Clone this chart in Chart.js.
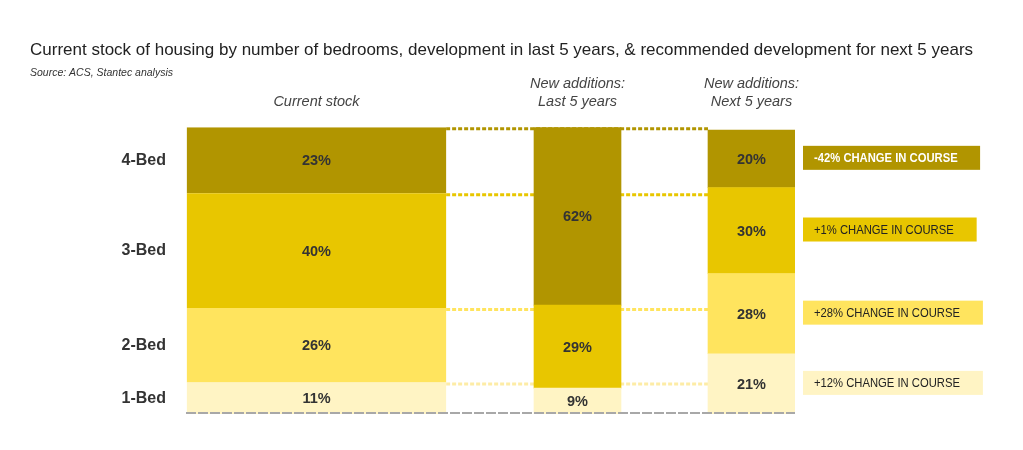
<!DOCTYPE html>
<html>
<head>
<meta charset="utf-8">
<script src="https://cdn.jsdelivr.net/npm/chart.js@4.4.1/dist/chart.umd.min.js"></script>
<style>
    html, body { margin: 0; padding: 0; background: #fff; }
    #wrap { width: 1023px; height: 450px; position: relative; }
</style>
</head>
<body>
<div id="wrap"><canvas id="housingChart"></canvas></div>
<script>
// Chart data
const bedrooms = ['4-Bed', '3-Bed', '2-Bed', '1-Bed'];
const columnLabels = ['Current stock', ['New additions:', 'Last 5 years'], ['New additions:', 'Next 5 years']];
const currentStock = [23, 40, 26, 11];
const lastFiveYears = [62, 29, null, 9];
const nextFiveYears = [20, 30, 28, 21];
const changeInCourse = ['-42%', '+1%', '+28%', '+12%'];

const bedColors = ['#b19500', '#e8c600', '#ffe45e', '#fff4c4'];
const lineColors = ['#b19500', '#e8c600', '#ffe45e', '#fdeca6'];

// the x axis has 7 equal slots: Current stock spans three, each gap and narrow bar one
const slotLabels = ['', columnLabels[0], '', '', columnLabels[1], '', columnLabels[2]];
const columnSlots = [1, 4, 6];
const columnSpan = [2.98, 1, 1];
const columns = [currentStock, lastFiveYears, nextFiveYears];

Chart.defaults.font.family = "'Liberation Sans', Arial, sans-serif";

const datasets = [];
columns.forEach((values, col) => {
    // stack from the bottom up: 1-Bed first
    for (let bed = bedrooms.length - 1; bed >= 0; bed--) {
        if (values[bed] === null) continue;
        const data = slotLabels.map(() => null);
        data[columnSlots[col]] = values[bed];
        datasets.push({
            label: bedrooms[bed],
            data: data,
            backgroundColor: bedColors[bed],
            borderWidth: 0,
            barPercentage: columnSpan[col],
            categoryPercentage: 1,
            column: col,
            bed: bed,
            slot: columnSlots[col]
        });
    }
});

function columnBars(chart, col) {
    const out = [];
    chart.data.datasets.forEach((ds, i) => {
        if (ds.column !== col) return;
        const el = chart.getDatasetMeta(i).data[ds.slot];
        out.push({ el: el, bed: ds.bed, value: ds.data[ds.slot] });
    });
    return out;
}

const housingLabels = {
    id: 'housingLabels',
    beforeDatasetsDraw(chart) {
        const ctx = chart.ctx;
        const current = columnBars(chart, 0);
        const next = columnBars(chart, 2);
        const stopX = next[0].el.x - next[0].el.width / 2;
        ctx.save();
        ctx.lineWidth = 3;
        ctx.setLineDash([4, 2]);
        current.forEach(b => {
            ctx.strokeStyle = lineColors[b.bed];
            ctx.beginPath();
            ctx.moveTo(b.el.x + b.el.width / 2, b.el.y + 1.5);
            ctx.lineTo(stopX, b.el.y + 1.5);
            ctx.stroke();
        });
        ctx.restore();
    },
    afterDatasetsDraw(chart) {
        const ctx = chart.ctx;
        const area = chart.chartArea;
        const next = columnBars(chart, 2);
        ctx.save();

        // dashed baseline
        ctx.strokeStyle = '#a8a8a8';
        ctx.lineWidth = 2;
        ctx.setLineDash([10, 2]);
        ctx.beginPath();
        ctx.moveTo(area.left, area.bottom - 1);
        ctx.lineTo(next[0].el.x + next[0].el.width / 2, area.bottom - 1);
        ctx.stroke();
        ctx.setLineDash([]);

        // percentages inside segments
        ctx.font = "bold 14.5px 'Liberation Sans', Arial, sans-serif";
        ctx.fillStyle = '#333';
        ctx.textAlign = 'center';
        ctx.textBaseline = 'middle';
        [0, 1, 2].forEach(col => {
            columnBars(chart, col).forEach(b => {
                ctx.fillText(b.value + '%', b.el.x, (b.el.y + b.el.base) / 2 + 1);
            });
        });

        // row labels beside the current stock bar
        ctx.font = "bold 16px 'Liberation Sans', Arial, sans-serif";
        ctx.textAlign = 'right';
        columnBars(chart, 0).forEach(b => {
            ctx.fillText(bedrooms[b.bed], area.left - 20, (b.el.y + b.el.base) / 2);
        });

        // change-in-course boxes beside the next 5 years bar (narrowed text)
        const squeeze = 0.865;
        ctx.font = "13px 'Liberation Sans', Arial, sans-serif";
        ctx.textAlign = 'left';
        next.forEach(b => {
            const text = changeInCourse[b.bed] + ' CHANGE IN COURSE';
            const x0 = b.el.x + b.el.width / 2 + 8;
            const yc = (b.el.y + b.el.base) / 2 - 1;
            const w = ctx.measureText(text).width * squeeze + 34;
            ctx.fillStyle = bedColors[b.bed];
            ctx.fillRect(x0, yc - 12, w, 24);
            ctx.fillStyle = b.bed === 0 ? '#fff' : '#222';
            ctx.save();
            ctx.translate(x0 + 11, yc + 1);
            ctx.scale(squeeze, 1);
            if (b.bed === 0) {
                ctx.font = "bold 13px 'Liberation Sans', Arial, sans-serif";
            }
            ctx.fillText(text, 0, 0);
            ctx.restore();
        });
        ctx.restore();
    }
};

const ctx = document.getElementById('housingChart').getContext('2d');
new Chart(ctx, {
    type: 'bar',
    data: {
        labels: slotLabels,
        datasets: datasets
    },
    options: {
        responsive: true,
        maintainAspectRatio: false,
        animation: false,
        layout: {
            padding: { top: 40, left: 30, right: 10, bottom: 36 }
        },
        scales: {
            x: {
                position: 'top',
                stacked: true,
                offset: true,
                grid: { display: false, drawTicks: false },
                border: { display: false },
                ticks: {
                    autoSkip: false,
                    maxRotation: 0,
                    padding: 17,
                    color: '#444',
                    font: { size: 14.5, style: 'italic' }
                },
                afterFit(scale) {
                    scale.height = 54;
                }
            },
            y: {
                stacked: true,
                min: 0,
                max: 100,
                grid: { display: false },
                border: { display: false },
                ticks: { display: false },
                afterFit(scale) {
                    scale.width = 156;
                }
            },
            // empty right axis keeps room for the change boxes
            side: {
                position: 'right',
                min: 0,
                max: 100,
                grid: { display: false },
                border: { display: false },
                ticks: { display: false },
                afterFit(scale) {
                    scale.width = 218;
                }
            }
        },
        plugins: {
            title: {
                display: true,
                text: 'Current stock of housing by number of bedrooms, development in last 5 years, & recommended development for next 5 years',
                align: 'start',
                color: '#222',
                font: { size: 17, weight: 'normal' },
                padding: { top: 0, bottom: 6.3 }
            },
            subtitle: {
                display: true,
                text: 'Source: ACS, Stantec analysis',
                align: 'start',
                color: '#333',
                font: { size: 10.5, style: 'italic' },
                padding: { top: 0, bottom: -6 }
            },
            legend: { display: false },
            tooltip: { enabled: false }
        }
    },
    plugins: [housingLabels]
});
</script>
</body>
</html>
